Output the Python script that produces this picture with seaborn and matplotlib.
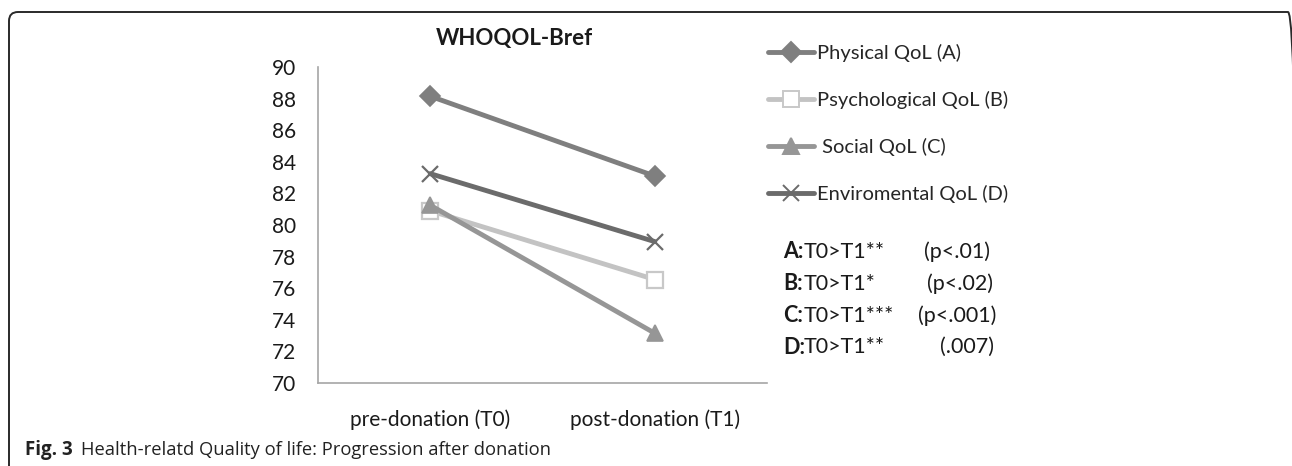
import pandas as pd
import matplotlib.pyplot as plt
import seaborn as sns
from matplotlib.lines import Line2D
from matplotlib.patches import FancyBboxPatch
from matplotlib.transforms import IdentityTransform

# values
time_points = ['pre-donation (T0)', 'post-donation (T1)']
physical = [88.15, 83.1]
psychological = [80.9, 76.55]
social = [81.25, 73.15]
environmental = [83.25, 78.95]

domains = ['Physical QoL (A)', 'Psychological QoL (B)', ' Social QoL (C)', 'Enviromental QoL (D)']
stats_left = ['T0>T1**', 'T0>T1*', 'T0>T1***', 'T0>T1**']
stats_letters = ['A:', 'B:', 'C:', 'D:']
stats_right = ['(p<.01)', '(p<.02)', '(p<.001)', '(.007)']

df = pd.DataFrame({
    'time': time_points * 4,
    'score': physical + psychological + social + environmental,
    'domain': [d for d in domains for _ in time_points],
})

colors = {domains[0]: '#7f7f7f', domains[1]: '#c3c3c3',
          domains[2]: '#969696', domains[3]: '#6b6b6b'}
markers = {domains[0]: 'D', domains[1]: 's', domains[2]: '^', domains[3]: 'x'}
msizes = {domains[0]: 10, domains[1]: 11, domains[2]: 12, domains[3]: 12}

sns.set_style('white')
plt.rcParams['font.family'] = ['Lato', 'DejaVu Sans']

fig = plt.figure(figsize=(12.92, 4.66), dpi=100)
ax = fig.add_axes([318 / 1292, 1 - 383 / 466, 449 / 1292, 316 / 466])

# one call per series (filled and line markers can't be mixed in one call)
for d in domains:
    sub = df[df['domain'] == d]
    sns.lineplot(data=sub, x='time', y='score', color=colors[d],
                 marker=markers[d], linewidth=3.5, sort=False,
                 legend=False, ax=ax)
    line = ax.lines[-1]
    line.set_markersize(msizes[d])
    line.set_markeredgecolor(colors[d])
    line.set_markeredgewidth(1.6 if d == domains[3] else 1.2)
    if d == domains[1]:
        line.set_markerfacecolor('white')
        line.set_markeredgecolor('#c8c8c8')
        line.set_markeredgewidth(1.6)

ax.set_xlim(-0.5, 1.5)
ax.set_ylim(70, 90)
ax.set_yticks(range(70, 91, 2))
ax.set_xlabel('')
ax.set_ylabel('')
ax.tick_params(axis='both', length=0, labelsize=15, colors='#1a1a1a')
ax.tick_params(axis='y', pad=16)
ax.tick_params(axis='x', pad=19)
for s in ['top', 'right']:
    ax.spines[s].set_visible(False)
for s in ['left', 'bottom']:
    ax.spines[s].set_color('#a6a6a6')
    ax.spines[s].set_linewidth(1.2)

fig.text(514 / 1292, 1 - 38 / 466, 'WHOQOL-Bref', ha='center', va='center',
         fontsize=16, fontweight='bold', color='#1a1a1a')

# legend
handles = []
for d in domains:
    h = Line2D([], [], color=colors[d], lw=3.5, marker=markers[d],
               markersize=msizes[d], markeredgecolor=colors[d],
               markeredgewidth=1.4)
    if d == domains[1]:
        h.set_markerfacecolor('white')
        h.set_markeredgecolor('#c8c8c8')
    handles.append(h)
fig.legend(handles, domains, loc='upper left',
           bbox_to_anchor=(760 / 1292, 1 - 36 / 466), frameon=False,
           fontsize=14.5, handlelength=2.3, handletextpad=0.15,
           labelspacing=1.43, borderaxespad=0)

# significance notes
rows_y = [252, 284, 316, 347]
right_x = [924, 927, 918, 940]
for letter, left, right, y, rx in zip(stats_letters, stats_left, stats_right, rows_y, right_x):
    fig.text(783 / 1292, 1 - y / 466, letter, ha='left', va='center',
             fontsize=15.5, fontweight='bold', color='#1a1a1a')
    fig.text(804 / 1292, 1 - y / 466, left, ha='left', va='center',
             fontsize=15.5, color='#1a1a1a')
    fig.text(rx / 1292, 1 - y / 466, right, ha='left', va='center',
             fontsize=15.5, color='#1a1a1a')

# caption
fig.text(25 / 1292, 1 - 450 / 466, 'Fig. 3', ha='left', va='center',
         fontsize=13.5, fontweight='bold', family='Open Sans', color='#222222')
fig.text(81 / 1292, 1 - 450 / 466, 'Health-relatd Quality of life: Progression after donation',
         ha='left', va='center', fontsize=13.2, family='Open Sans', color='#222222')

# frame around the figure (right side runs off the image)
frame = FancyBboxPatch((9, -30), 1288, 466 - 12 + 30,
                       boxstyle='round,pad=0,rounding_size=9',
                       transform=IdentityTransform(), fill=False,
                       edgecolor='#2a2a2a', linewidth=1.4)
fig.add_artist(frame)

fig.savefig('out.png', dpi=100)
plt.close(fig)
